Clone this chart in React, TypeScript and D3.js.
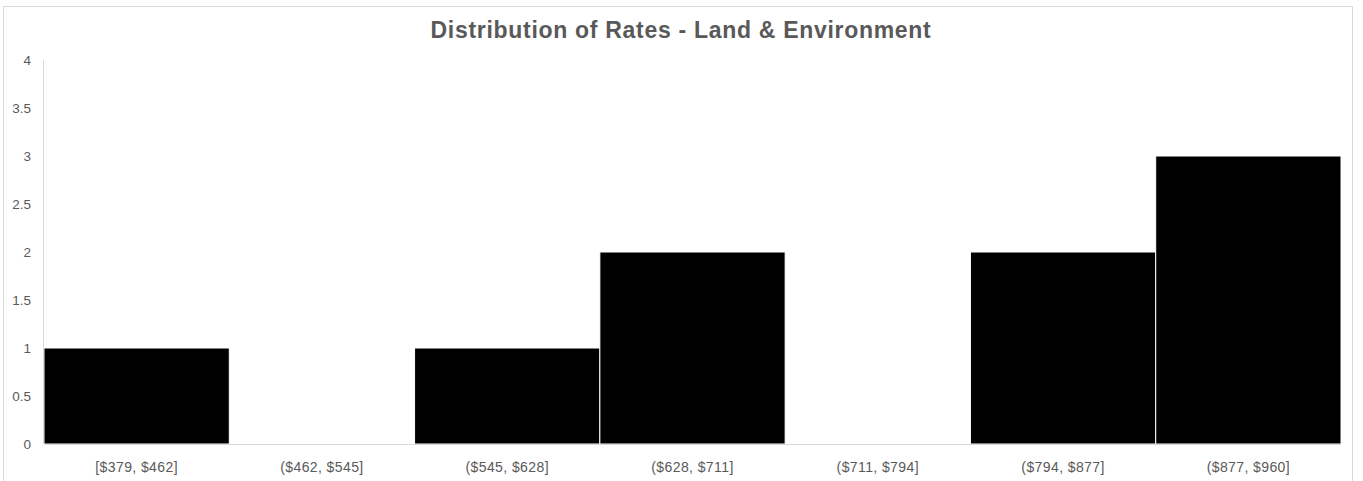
import React from "react";
import * as d3 from "d3";

const bins = ["[$379, $462]", "($462, $545]", "($545, $628]", "($628, $711]", "($711, $794]", "($794, $877]", "($877, $960]"];
const counts = [1, 0, 1, 2, 0, 2, 3];
const yTicks = [0, 0.5, 1, 1.5, 2, 2.5, 3, 3.5, 4];
const title = "Distribution of Rates - Land & Environment";

export default function App() {
  const W = 1363, H = 481;
  const left = 44, right = 1341, top = 60, bottom = 444;
  const x = d3.scaleBand<string>().domain(bins).range([left, right]).padding(0);
  const y = d3.scaleLinear().domain([0, 4]).range([bottom, top]);
  const font = "Liberation Sans, Arial, sans-serif";
  const fmt = (v: number) => String(v);
  return (
    <svg width={W} height={H} style={{ position: "absolute", left: 0, top: 0, display: "block" }} fontFamily={font}>
      <rect x={0} y={0} width={W} height={H} fill="#fff" />
      <path d={`M3.5,${H + 2}V6.5H1352.5V${H + 2}`} fill="none" stroke="#d9d9d9" strokeWidth={1} />
      <text x={681} y={38} textAnchor="middle" fontSize={23} fontWeight="bold" fill="#595959" letterSpacing={0.7}>{title}</text>
      {yTicks.map((t) => (
        <text key={t} x={31} y={y(t) + 5} textAnchor="end" fontSize={13.5} fill="#595959">{fmt(t)}</text>
      ))}
      {bins.map((b, i) => (
        <rect key={b} x={x(b)!} y={y(counts[i])} width={x.bandwidth()} height={bottom - y(counts[i])} fill="#000" stroke="#fff" strokeWidth={1} />
      ))}
      <line x1={left - 0.5} x2={left - 0.5} y1={top} y2={bottom} stroke="#d9d9d9" />
      <line x1={left} x2={right} y1={bottom + 0.5} y2={bottom + 0.5} stroke="#d9d9d9" />
      {bins.map((b) => (
        <text key={b} x={x(b)! + x.bandwidth() / 2} y={472} textAnchor="middle" fontSize={14} fill="#595959" letterSpacing={0.4}>{b}</text>
      ))}
    </svg>
  );
}
